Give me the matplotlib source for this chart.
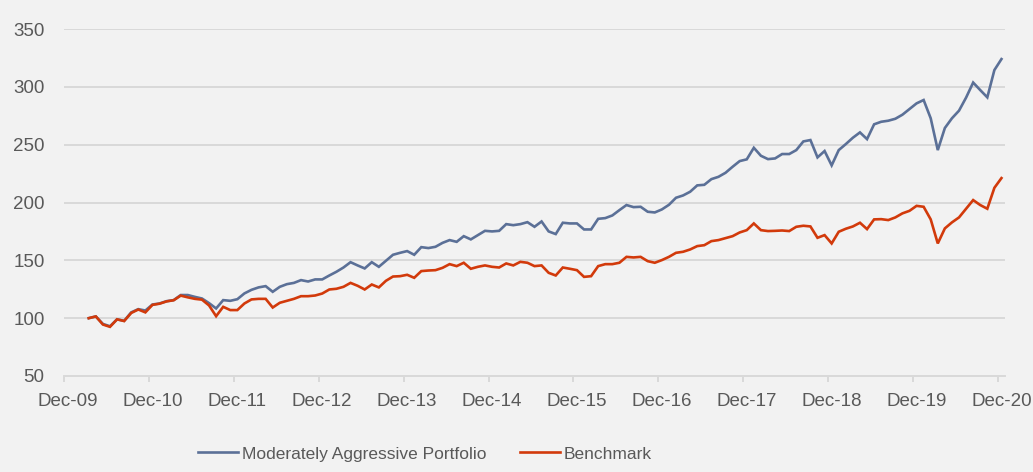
#
#  plot.py
#  Moderately Aggressive Portfolio vs Benchmark, growth of 100
#

import numpy as np
import matplotlib
matplotlib.use('Agg')
import matplotlib.pyplot as plt

# Données mensuelles, de mars 2010 à décembre 2020
# Indice des mois : 0 = Dec-09, 132 = Dec-20
PREMIER_MOIS: int = 3

PORTEFEUILLE = [
    100.0, 101.5, 95.0, 93.0, 99.0, 97.7, 105.0, 107.8, 106.6, 111.8,
    112.7, 114.7, 115.6, 120.0, 120.0, 118.4, 117.0, 113.0, 108.4, 115.6,
    115.0, 116.4, 121.4, 124.5, 126.6, 127.7, 122.8, 127.1, 129.4, 130.5,
    132.9, 131.7, 133.5, 133.5, 136.9, 140.1, 143.8, 148.4, 145.6, 143.0,
    148.4, 144.4, 149.6, 154.8, 156.5, 158.0, 154.8, 161.4, 160.6, 161.7,
    165.1, 167.5, 166.0, 170.9, 168.1, 171.8, 175.5, 175.0, 175.5, 181.3,
    180.4, 181.3, 183.0, 179.0, 183.6, 175.0, 172.7, 182.5, 181.9, 181.9,
    176.7, 176.7, 185.9, 186.5, 188.8, 193.4, 197.8, 196.0, 196.3, 192.0,
    191.4, 194.0, 198.0, 204.1, 206.1, 209.3, 214.8, 215.3, 220.2, 222.2,
    225.7, 230.9, 235.8, 237.3, 247.3, 240.4, 237.5, 238.1, 241.9, 241.9,
    245.3, 252.8, 254.0, 239.0, 244.5, 232.1, 245.3, 250.5, 256.0, 260.6,
    254.8, 267.6, 269.8, 270.7, 272.4, 275.9, 280.8, 285.7, 288.6, 272.8,
    245.3, 264.4, 272.8, 279.4, 290.7, 303.7, 297.2, 290.9, 314.5, 324.0,
]

INDICE = [
    100.0, 101.5, 94.5, 92.5, 99.0, 97.5, 104.5, 107.5, 105.0, 111.5,
    112.5, 114.5, 115.5, 119.5, 118.0, 116.7, 116.0, 111.0, 101.7, 109.8,
    107.0, 107.0, 112.7, 116.2, 116.7, 116.7, 109.2, 113.3, 115.0, 116.7,
    119.0, 119.0, 119.6, 121.3, 124.8, 125.4, 127.1, 130.5, 128.0, 124.8,
    129.1, 126.6, 132.3, 136.0, 136.3, 137.5, 134.9, 140.7, 141.2, 141.5,
    143.5, 146.7, 145.0, 147.9, 142.7, 144.4, 145.6, 144.4, 143.8, 147.3,
    145.6, 148.7, 147.9, 145.0, 145.6, 139.2, 136.9, 143.8, 142.7, 141.5,
    135.7, 136.3, 145.0, 146.7, 146.7, 147.9, 153.0, 152.5, 153.0, 149.3,
    147.9, 150.2, 153.0, 156.5, 157.4, 159.4, 162.3, 163.1, 166.6, 167.5,
    169.2, 170.9, 174.1, 176.1, 181.9, 176.1, 175.3, 175.5, 175.8, 175.3,
    179.0, 179.9, 179.3, 169.5, 171.8, 164.6, 174.7, 177.3, 179.3, 182.5,
    177.0, 185.4, 185.6, 184.8, 187.1, 190.6, 192.8, 197.1, 196.3, 185.4,
    164.6, 177.6, 182.8, 187.1, 194.6, 202.1, 197.8, 194.6, 212.7, 221.1,
]

ETIQUETTES_X = ['Dec-09', 'Dec-10', 'Dec-11', 'Dec-12', 'Dec-13', 'Dec-14',
                'Dec-15', 'Dec-16', 'Dec-17', 'Dec-18', 'Dec-19', 'Dec-20']
GRADUATIONS_Y = [50, 100, 150, 200, 250, 300, 350]

NOMS = ['Moderately Aggressive Portfolio', 'Benchmark']

# Couleurs (style Excel)
FOND = '#f2f2f2'
GRILLE = '#d9d9d9'
TEXTE = '#595959'
BLEU = '#5b7097'
ROUGE = '#d23a0b'

plt.rcParams['font.family'] = ['Liberation Sans', 'DejaVu Sans']

fig = plt.figure(figsize=(10.33, 4.72), dpi=100, facecolor=FOND)
ax = fig.add_axes([64 / 1033, 1 - 376 / 472, 941 / 1033, 347 / 472])
ax.set_facecolor(FOND)

mois = np.arange(PREMIER_MOIS, PREMIER_MOIS + len(PORTEFEUILLE))
ax.plot(mois, PORTEFEUILLE, color=BLEU, lw=1.9, label=NOMS[0],
        solid_joinstyle='miter')
ax.plot(mois, INDICE, color=ROUGE, lw=1.9, label=NOMS[1],
        solid_joinstyle='miter')

# Axe des x : une catégorie par mois, étiquettes au centre de décembre
ax.set_xlim(-0.5, 132.5)
ax.set_xticks(np.arange(0, 133, 12))
ax.set_xticklabels(ETIQUETTES_X)
ax.set_xticks(np.arange(-0.5, 132, 12), minor=True)
ax.tick_params(axis='x', which='major', length=0, pad=12,
               labelsize=13.5, labelcolor=TEXTE)
ax.tick_params(axis='x', which='minor', length=4, width=1.4,
               color=GRILLE, direction='out')

# Axe des y
ax.set_ylim(50, 350)
ax.set_yticks(GRADUATIONS_Y)
ax.tick_params(axis='y', length=0, pad=14, labelsize=13.5, labelcolor=TEXTE)
ax.grid(axis='y', color=GRILLE, lw=1.4)
ax.set_axisbelow(True)

for cote in ['top', 'right', 'left']:
    ax.spines[cote].set_visible(False)
ax.spines['bottom'].set_color(GRILLE)
ax.spines['bottom'].set_linewidth(1.4)

# Légende en bas, centrée comme dans l'original (pas au milieu de la figure)
fig.legend(loc='center', bbox_to_anchor=(425 / 1033, 1 - 454 / 472),
           ncol=2, frameon=False, fontsize=12.5, labelcolor=TEXTE,
           handlelength=2.3, handletextpad=0.25, columnspacing=1.9)

fig.savefig('out.png', dpi=100, facecolor=FOND)
